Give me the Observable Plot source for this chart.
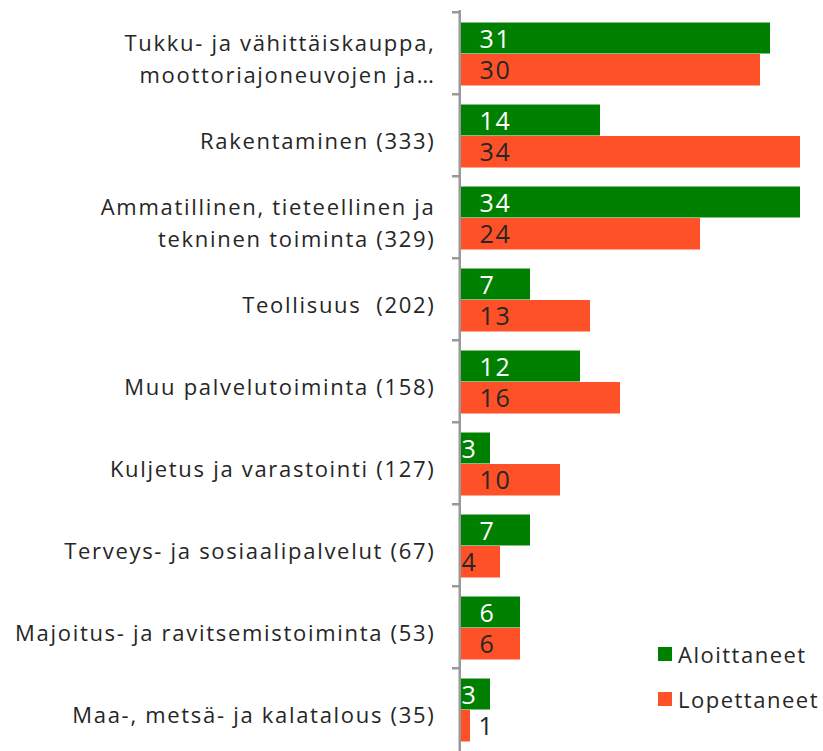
<!DOCTYPE html>
<html>
<head>
<meta charset="utf-8">
<script src="https://cdn.jsdelivr.net/npm/d3@7"></script>
<script src="https://cdn.jsdelivr.net/npm/@observablehq/plot@0.6"></script>
<style>
  html, body { margin: 0; padding: 0; background: #fff; }
  #wrap { position: relative; width: 823px; height: 751px; font-family: "Open Sans", sans-serif; color: #262626; }
  #legend { position: absolute; left: 658px; top: 640px; font-size: 22px; letter-spacing: 1.5px; }
  .item { display: flex; align-items: center; height: 28px; margin-bottom: 17px; }
  .sw { width: 14px; height: 14px; margin-right: 6px; }
</style>
</head>
<body>
<div id="wrap"><div id="legend"></div></div>
<script>
const categories = [
  "Tukku- ja vähittäiskauppa,\nmoottoriajoneuvojen ja…",
  "Rakentaminen (333)",
  "Ammatillinen, tieteellinen ja\ntekninen toiminta (329)",
  "Teollisuus\u00a0 (202)",
  "Muu palvelutoiminta (158)",
  "Kuljetus ja varastointi (127)",
  "Terveys- ja sosiaalipalvelut (67)",
  "Majoitus- ja ravitsemistoiminta (53)",
  "Maa-, metsä- ja kalatalous (35)"
];
const seriesNames = ["Aloittaneet", "Lopettaneet"];
const aloittaneet = [31, 14, 34, 7, 12, 3, 7, 6, 3];
const lopettaneet = [30, 34, 24, 13, 16, 10, 4, 6, 1];
const colors = ["#008000", "#FF5128"];

const green = categories.map((c, i) => ({cat: c, series: seriesNames[0], value: aloittaneet[i]}));
const orange = categories.map((c, i) => ({cat: c, series: seriesNames[1], value: lopettaneet[i]}));

const band = (751 + 1.5 - 10) / 9;
const half = band / 2;
const gDy = 27.5 - half;
const oDy = 58.5 - half;

function labels(data, dy, fill) {
  return [
    Plot.text(data.filter(d => d.value >= 5), {x: 0, y: "cat", text: d => String(d.value), textAnchor: "start", dx: 19, dy, fill, fontSize: 25}),
    Plot.text(data.filter(d => d.value >= 2 && d.value < 5), {x: 0, y: "cat", text: d => String(d.value), textAnchor: "start", dx: 1, dy, fill, fontSize: 25}),
    Plot.text(data.filter(d => d.value < 2), {x: "value", y: "cat", text: d => String(d.value), textAnchor: "start", dx: 8, dy, fill: "#262626", fontSize: 25})
  ];
}

const chart = Plot.plot({
  width: 823,
  height: 751,
  marginLeft: 460,
  marginRight: 23,
  marginTop: 10,
  marginBottom: -1.5,
  x: {domain: [0, 34], axis: null},
  y: {domain: categories, padding: 0, axis: null},
  style: {fontFamily: "'Open Sans', sans-serif", background: "transparent", color: "#262626", overflow: "visible"},
  marks: [
    Plot.barX(green, {y: "cat", x: "value", fill: colors[0], insetTop: 10.5, insetBottom: band - 42}),
    Plot.barX(orange, {y: "cat", x: "value", fill: colors[1], insetTop: 42, insetBottom: band - 74}),
    ...labels(green, gDy, "#ffffff"),
    ...labels(orange, oDy, "#262626"),
    Plot.ruleX([0], {stroke: "#999999", strokeWidth: 2.5, dx: -0.75}),
    Plot.ruleY(categories, {y: d => d, x1: 0, x2: 0, insetLeft: -8, dy: -half, stroke: "#999999", strokeWidth: 2.5}),
    Plot.text(categories, {y: d => d, text: d => d, frameAnchor: "left", textAnchor: "end", dx: -25, dy: 3, fontSize: 22, lineHeight: 1.45, fill: "#262626"})
  ]
});
chart.style.letterSpacing = "1.7px";
document.getElementById("wrap").prepend(chart);
chart.style.position = "absolute";
chart.style.left = "0";
chart.style.top = "0";

const legend = document.getElementById("legend");
seriesNames.forEach((s, i) => {
  const item = document.createElement("div");
  item.className = "item";
  const sw = document.createElement("div");
  sw.className = "sw";
  sw.style.background = colors[i];
  const t = document.createElement("span");
  t.textContent = s;
  item.append(sw, t);
  legend.append(item);
});
</script>
</body>
</html>
